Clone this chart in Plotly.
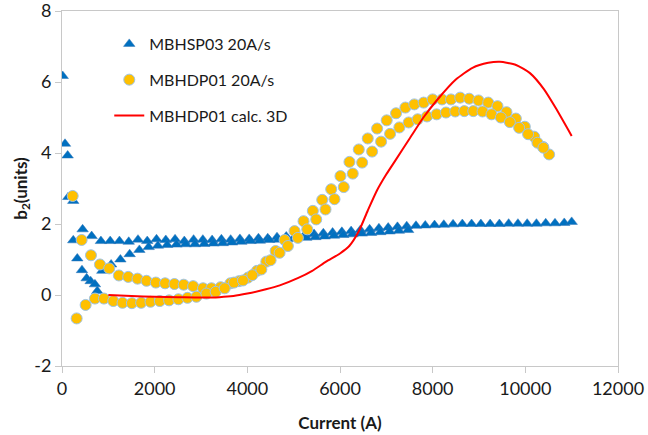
import plotly.graph_objects as go

# MBHSP03 20A/s (blue triangles)
hsp_x = [15, 65, 122, 136, 243, 243, 330, 431, 445, 532, 618, 640, 711, 761,
         840, 1040, 1240, 1440, 1640, 1840, 2040, 2240, 2440, 2640, 2840, 3040, 3240,
         3440, 3640, 3840, 4040, 4240, 4440, 4640, 4840, 5040, 5240, 5440, 5640, 5840,
         6040, 6240, 6440, 6640, 6840, 7040, 7240, 7440, 7640, 7840, 8040, 8240, 8440,
         8640, 8840, 9040, 9240, 9440, 9640, 9840, 10040, 10240, 10440, 10640, 10840, 11000,
         870, 1060, 1260, 1460, 1670, 1870, 2070, 2270, 2470, 2670, 2870, 3070, 3270,
         3470, 3670, 3870, 4070, 4270, 4470, 4670, 4870, 5070, 5270, 5470, 5670, 5870,
         6070, 6270, 6470, 6670, 6870, 7070, 7270, 7470]
hsp_y = [6.17, 4.26, 3.93, 2.76, 2.65, 1.54, 1.03, 0.70, 1.85, 0.47, 0.39, 1.66, 0.30, 0.11,
         1.52, 1.52, 1.52, 1.50, 1.56, 1.52, 1.57, 1.55, 1.57, 1.52, 1.56, 1.56, 1.55,
         1.57, 1.56, 1.58, 1.58, 1.60, 1.60, 1.63, 1.65, 1.67, 1.70, 1.72, 1.74, 1.76,
         1.78, 1.80, 1.83, 1.85, 1.88, 1.90, 1.92, 1.94, 1.95, 1.96, 1.97, 1.98, 1.99,
         2.00, 2.00, 2.00, 2.00, 2.00, 2.01, 2.01, 2.01, 2.01, 2.02, 2.02, 2.03, 2.06,
         0.68, 0.86, 1.00, 1.15, 1.27, 1.35, 1.39, 1.41, 1.42, 1.43, 1.43, 1.44, 1.45,
         1.46, 1.48, 1.50, 1.52, 1.53, 1.55, 1.56, 1.58, 1.60, 1.61, 1.63, 1.65, 1.67,
         1.69, 1.71, 1.73, 1.75, 1.77, 1.79, 1.81, 1.83]

# MBHDP01 20A/s (orange circles)
hdp_x = [230, 424, 625, 819, 1019, 1228, 1429, 1630, 1824, 2025, 2225, 2426, 2626, 2829,
         3044, 3225, 3425, 3635, 3820, 4014, 4208, 4410, 4610, 4804, 5019, 5213, 5414,
         5616, 5810, 6010, 6204, 6405, 6599, 6801, 7008, 7210, 7411, 7604, 7805, 7999,
         8201, 8395, 8595, 8789, 8990, 9199, 9399, 9593, 9795, 9989, 10190, 10384, 10513,
         316, 510, 711, 905, 1106, 1307, 1508, 1708, 1910, 2111, 2311, 2512, 2707, 2900,
         3117, 3317, 3511, 3712, 3906, 4108, 4302, 4502, 4696, 4875, 5091, 5293, 5487,
         5687, 5881, 6081, 6275, 6478, 6693, 6887, 7081, 7281, 7482, 7676, 7877, 8085,
         8287, 8488, 8682, 8876, 9076, 9270, 9472, 9666, 9866, 10060, 10261, 10390]
hdp_y = [2.79, 1.55, 1.12, 0.86, 0.75, 0.55, 0.51, 0.46, 0.40, 0.35, 0.33, 0.31, 0.29, 0.25,
         0.19, 0.19, 0.22, 0.33, 0.39, 0.49, 0.68, 0.94, 1.24, 1.55, 1.80, 2.08, 2.37,
         2.68, 2.98, 3.35, 3.75, 4.10, 4.41, 4.69, 4.92, 5.12, 5.28, 5.37, 5.42, 5.51,
         5.51, 5.51, 5.56, 5.53, 5.48, 5.42, 5.32, 5.15, 4.97, 4.74, 4.46, 4.17, 3.96,
         -0.66, -0.28, -0.10, -0.10, -0.17, -0.22, -0.23, -0.22, -0.19, -0.17, -0.15, -0.12, -0.08, -0.05,
         0.04, 0.09, 0.19, 0.35, 0.41, 0.56, 0.72, 0.98, 1.19, 1.38, 1.61, 1.85, 2.13,
         2.41, 2.70, 3.04, 3.42, 3.73, 4.04, 4.32, 4.54, 4.72, 4.86, 4.95, 5.03, 5.09,
         5.14, 5.17, 5.18, 5.18, 5.17, 5.09, 5.00, 4.87, 4.71, 4.53, 4.29, 4.15]

# MBHDP01 calc. 3D (red line)
calc_x = [1000, 1500, 2000, 2500, 3000, 3400, 3700, 4000, 4400, 4700, 5100, 5400, 5700,
          6000, 6200, 6400, 6600, 6800, 7000, 7200, 7500, 7800, 8100, 8500, 8860, 9200,
          9450, 9800, 10100, 10400, 10650, 11000]
calc_y = [0.00, -0.03, -0.05, -0.06, -0.07, -0.06, -0.03, 0.04, 0.16, 0.27, 0.48, 0.68, 0.94,
          1.17, 1.38, 1.78, 2.38, 2.95, 3.40, 3.80, 4.40, 5.00, 5.50, 6.07, 6.40, 6.54,
          6.57, 6.48, 6.25, 5.80, 5.28, 4.48]

x_ticks = [0, 2000, 4000, 6000, 8000, 10000, 12000]
x_tick_text = ["0", "2000", "4000", "6000", "8000", "10000", "12000"]
y_ticks = [-2, 0, 2, 4, 6, 8]
y_tick_text = ["-2", "0", "2", "4", "6", "8"]

FONT = "Lato"
TXT = "#1a1a1a"

fig = go.Figure()
fig.add_trace(go.Scatter(
    x=hsp_x, y=hsp_y, mode="markers", name="MBHSP03 20A/s", legendgroup="a",
    marker=dict(symbol="triangle-up", size=10, color="#0070C0",
                line=dict(width=0.5, color="#2E75B6"))))
fig.add_trace(go.Scatter(
    x=hdp_x, y=hdp_y, mode="markers", name="MBHDP01 20A/s", legendgroup="b",
    marker=dict(symbol="circle", size=11, color="#FFC000",
                line=dict(width=1, color="#9DC3E6"))))
fig.add_trace(go.Scatter(
    x=calc_x, y=calc_y, mode="lines", name="MBHDP01 calc. 3D", legendgroup="c",
    line=dict(color="#FF0000", width=2, shape="spline", smoothing=0.6)))

axis_common = dict(showgrid=False, zeroline=False, showline=True, linecolor="#C8C8C8",
                   linewidth=1, mirror=True, ticks="outside", ticklen=6, automargin=False,
                   ticklabeloverflow="allow",
                   tickcolor="#C8C8C8", tickfont=dict(family=FONT, size=18, color=TXT))

fig.update_xaxes(range=[0, 12000], tickmode="array", tickvals=x_ticks, ticktext=x_tick_text,
                 **axis_common,
                 title=dict(text="<b>Current (A)</b>", font=dict(family=FONT, size=17, color=TXT),
                            standoff=19))
fig.update_yaxes(range=[-2, 8.0005], tickmode="array", tickvals=y_ticks, ticktext=y_tick_text,
                 **axis_common,
                 title=dict(text="<b>b<sub>2</sub>(units)</b>", font=dict(family=FONT, size=17, color=TXT),
                            standoff=2))

fig.update_layout(
    width=648, height=435,
    margin=dict(l=62, r=30, t=11, b=69),
    paper_bgcolor="white", plot_bgcolor="white",
    showlegend=True,
    legend=dict(x=0.085, y=0.955, xanchor="left", yanchor="top",
                bgcolor="rgba(0,0,0,0)", tracegroupgap=12,
                font=dict(family=FONT, size=16, color=TXT)),
)

fig.write_html("out.html", config={"displayModeBar": False},
               post_script="document.body.style.margin='0';")
